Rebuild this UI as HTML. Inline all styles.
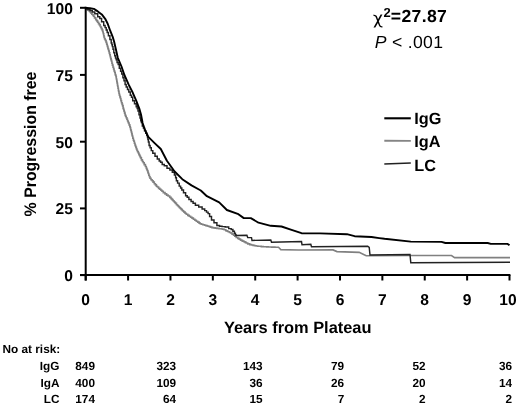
<!DOCTYPE html>
<html><head><meta charset="utf-8"><title>Progression free</title>
<style>
html,body{margin:0;padding:0;background:#fff;}
body{width:520px;height:405px;position:relative;overflow:hidden;font-family:"Liberation Sans",Arial,sans-serif;color:#000;font-weight:bold;text-rendering:geometricPrecision;}
svg{position:absolute;left:0;top:0;}
div{position:absolute;white-space:nowrap;line-height:1;}
.xl{top:292.6px;width:40px;text-align:center;font-size:15.6px;}
.yl{left:22.9px;width:50px;text-align:right;font-size:15.6px;}
.t{font-size:11.8px;}
</style></head><body>
<svg width="520" height="405" viewBox="0 0 520 405" fill="none">
<path d="M86.0,8.0H86.6V9.1H87.3H87.7V9.9H88.2H88.7V10.8H89.2H89.7V11.7H90.1H90.7V13.0H91.3H91.8V14.2H92.3H92.7V15.0H93.1H93.5V16.3H94.0H94.5V17.9H95.1H95.7V19.6H96.3H96.7V20.9H97.2H97.6V22.2H98.1H98.5V23.6H98.9H99.4V24.9H99.8H100.2V26.5H100.7H100.9V27.4H101.1H101.4V28.6H101.8H102.1V29.9H102.4H102.6V31.2H102.9H103.0V32.5H103.2H103.3V33.7H103.4H103.7V35.8H103.9H104.1V37.3H104.3H104.5V38.8H104.8H105.1V39.8H105.3H105.6V40.7H105.8H106.1V42.4H106.5H106.7V44.3H107.0H107.2V45.6H107.4H107.5V46.6H107.6H107.9V48.4H108.2H108.3V49.4H108.4H108.7V51.0H108.9H109.2V52.9H109.4H109.7V54.8H109.9H110.2V56.5H110.4H110.5V57.6H110.7H110.8V58.9H111.0H111.2V60.1H111.3H111.5V61.3H111.6H111.9V63.2H112.1H112.4V65.1H112.6H113.0V67.3H113.3H113.6V69.0H113.8H114.1V71.0H114.4H114.7V72.5H114.9H115.2V74.6H115.6H115.7V75.5H115.8H116.0V76.7H116.1H116.3V78.8H116.5H116.6V79.8H116.7H116.8V81.1H116.9H117.0V82.4H117.1H117.2V83.4H117.3H117.5V85.2H117.7H117.7V86.2H117.8H118.0V88.3H118.2H118.4V90.2H118.5H118.6V91.4H118.8H119.0V93.5H119.2H119.4V95.3H119.7H119.9V96.9H120.2H120.4V98.5H120.6H120.9V100.6H121.3H121.5V102.7H121.8H122.1V104.4H122.3H122.6V105.9H122.8H123.1V108.1H123.4H123.5V109.3H123.7H123.9V110.6H124.1H124.2V111.5H124.3H124.6V113.1H124.8H125.1V115.0H125.4H125.6V116.2H125.9H126.2V117.7H126.5H126.9V119.3H127.2H127.5V120.7H127.8H128.0V121.7H128.1H128.4V123.0H128.7H129.1V124.9H129.5H129.8V126.6H130.1H130.3V127.8H130.4H130.6V129.5H130.8H130.9V130.4H131.1H131.3V132.0H131.5H131.7V133.6H131.9H132.1V135.2H132.3H132.4V136.3H132.5H132.8V138.3H133.1H133.4V140.3H133.7H133.9V141.3H134.0H134.4V143.2H134.7H135.0V145.0H135.3H135.5V146.2H135.7H135.9V147.4H136.1H136.4V149.0H136.7H137.0V150.5H137.3H137.6V151.8H138.0H138.3V153.0H138.5H138.9V154.4H139.2H139.4V155.4H139.7H140.0V156.6H140.3H140.6V157.9H140.9H141.4V159.9H141.9H142.4V161.5H142.9H143.3V162.7H143.6H144.2V164.6H144.8H145.4V166.5H145.9H146.3V168.4H146.7H146.9V169.6H147.1H147.4V170.8H147.6H147.9V172.4H148.1H148.3V173.5H148.5H148.8V175.2H149.1H149.4V176.7H149.7H150.0V178.2H150.4H151.0V179.8H151.7H152.1V180.8H152.5H153.1V182.1H153.6H154.3V183.8H155.0H155.4V184.9H155.8H156.4V186.2H156.9H157.4V187.0H157.8H158.6V188.4H159.3H159.8V189.2H160.3H160.9V190.3H161.5H162.0V191.2H162.4H163.3V192.6H164.1H165.0V193.9H165.8H166.6V195.1H167.5H168.1V196.0H168.8H169.7V197.4H170.5H171.0V198.6H171.6H172.0V199.6H172.5H173.0V200.8H173.5H174.0V201.8H174.5H174.8V202.5H175.1H175.5V203.4H175.9H176.5V204.8H177.2H177.6V205.8H178.1H178.6V206.8H179.1H179.5V207.7H180.0H180.4V208.5H180.8H181.2V209.4H181.7H182.2V210.5H182.8H183.2V211.3H183.6H184.0V212.1H184.4H185.1V213.3H185.7H186.3V214.2H187.0H187.8V215.4H188.6H189.2V216.2H189.8H190.6V217.3H191.4H192.0V218.1H192.6H193.4V219.2H194.2H194.9V220.2H195.6H196.3V221.2H197.0H197.7V222.1H198.4H199.1V223.1H199.8H200.2V223.7H200.7H201.4V224.2H202.0H202.9V224.8H203.9H204.6V225.2H205.3H205.9V225.6H206.5H207.1V226.0H207.7H208.2V226.3H208.8H209.3V226.6H209.7H210.5V227.1H211.2H211.9V227.6H212.7H213.5V227.9H214.3H215.2V228.1H216.1H217.0V228.4H218.0H219.0V228.7H219.9H220.5V228.8H221.0H221.6V229.0H222.1H222.9V229.2H223.6H224.2V229.7H224.9H225.8V230.7H226.7H227.2V231.2H227.7H228.2V231.7H228.7H229.5V232.5H230.3H230.8V233.0H231.2H232.1V234.2H232.9H233.6V235.3H234.2H234.8V236.1H235.3H236.2V237.5H237.0H237.8V238.4H238.5H239.1V239.1H239.7H240.5V240.1H241.4H241.8V240.6H242.3H242.7V241.1H243.2H243.9V241.8H244.5H245.1V242.4H245.7H246.2V243.0H246.7H247.7V243.9H248.6H249.7V244.6H250.7H251.5V245.0H252.4H253.1V245.4H253.8H254.6V245.8H255.4H256.2V246.0H257.0H257.8V246.2H258.7H259.5V246.3H260.3H261.3V246.6H262.3H263.3V246.8H264.3H264.9V246.8H265.6H266.7V246.9H267.8H268.3V247.0H268.8H269.9V247.0H270.9H271.6V247.1H272.3H273.2V247.1H274.1H274.9V247.2H275.6H276.7V247.3H277.8H278.2V247.3H278.5L280.8,249.6L298.5,250.0L333.0,249.9L337.0,251.6L359.2,252.4L366.2,255.8L411.5,255.5L451.5,255.5L454.6,257.6L510.0,257.6" stroke="#808080" stroke-width="1.6" stroke-linejoin="miter"/>
<path d="M86.0,8.0H87.5V9.4H88.9H90.0V10.5H91.2H92.3V11.9H93.4H94.8V13.8H96.2H97.7V16.7H99.2H99.8V18.4H100.4H101.6V21.8H102.8H103.7V25.5H104.6H105.1V27.6H105.7H106.2V30.0H106.7H107.2V32.4H107.7H108.4V35.8H109.1H109.9V39.5H110.7H111.2V43.0H111.7H111.9V44.8H112.2H112.4V46.6H112.6H113.0V49.3H113.4H113.8V52.7H114.3H114.7V55.8H115.2H115.5V58.1H115.8H116.2V59.7H116.5H117.1V62.6H117.8H118.2V64.6H118.6H119.3V68.3H120.1H120.6V71.2H121.2H121.7V73.9H122.2H122.9V77.8H123.5H124.0V80.8H124.5H125.1V84.4H125.7H126.2V87.0H126.8H127.5V89.5H128.1H128.8V92.0H129.4H130.3V95.3H131.1H131.5V97.3H132.0H132.7V100.7H133.5H134.5V103.7H135.5H136.2V106.7H136.9H137.2V108.6H137.6H138.0V111.0H138.4H139.0V114.8H139.5H140.0V118.0H140.4H140.7V120.7H141.1H141.4V122.5H141.6H142.3V126.1H143.0H143.4V128.1H143.9H144.5V130.7H145.1H145.7V133.3H146.3H146.8V135.4H147.3H147.5V137.5H147.7H147.9V139.5H148.2H148.4V141.9H148.7H149.1V145.5H149.6H150.1V147.7H150.6H151.3V150.6H151.9H152.8V153.3H153.8H155.0V156.3H156.3H157.3V158.9H158.4H159.2V160.9H160.0H160.6V162.3H161.1H162.2V164.5H163.3H164.3V165.8H165.3H167.0V168.2H168.7H169.9V170.0H171.0H172.3V172.2H173.6H174.4V174.9H175.1H175.6V177.7H176.0H176.4V180.7H176.9H177.6V183.1H178.2H179.2V186.1H180.1H180.6V187.9H181.2H181.8V189.9H182.5H183.5V192.8H184.5H185.6V195.8H186.6H187.2V197.2H187.8H188.9V199.5H190.0H191.1V201.5H192.2H193.1V203.2H193.9H195.4V205.2H196.8H198.7V206.9H200.5H202.1V208.9H203.7H204.7V210.6H205.6H206.5V212.1H207.4H208.1V213.6H208.8H209.6V216.4H210.5H211.5V219.9H212.6H214.0V222.8H215.4H216.9V225.5H218.4H219.5V226.3H220.6H222.0V226.6H223.3H225.2V227.0H227.1H228.7V228.6H230.3H231.2V229.5H232.1H232.9V231.2H233.8H234.4V233.2H234.9H235.4V234.8H235.9H236.0V235.4H236.2L246.9,235.3L247.7,237.6L251.5,237.6L252.0,240.4L270.8,240.1L271.5,242.2L301.5,241.6L302.0,244.7L310.8,244.2L311.5,246.8L367.7,246.2L369.2,247.3L370.0,255.0L410.0,254.5L410.8,262.7L510.0,262.2" stroke="#222" stroke-width="1.45" stroke-linejoin="miter"/>
<path d="M86.0,8.0 L90.0,8.3 L93.9,8.9 L97.8,11.4 L101.8,14.4 L105.2,18.8 L107.7,23.7 L110.2,30.7 L112.6,36.6 L114.1,41.5 L117.8,57.8 L121.5,66.5 L124.4,75.0 L128.8,84.9 L132.8,92.8 L136.2,100.7 L139.3,108.6 L141.0,114.5 L142.6,123.0 L145.0,130.0 L148.3,136.9 L154.6,143.1 L160.8,149.0 L166.9,160.8 L174.6,171.5 L182.3,179.2 L191.5,185.4 L200.8,190.5 L206.9,196.2 L219.2,202.3 L226.9,210.0 L237.7,213.8 L243.8,218.1 L250.8,218.1 L258.5,222.7 L270.8,225.8 L281.5,226.5 L290.8,229.6 L301.5,233.2 L320.0,233.4 L346.9,234.2 L354.6,236.2 L371.5,237.0 L379.2,238.1 L384.6,238.8 L410.8,241.6 L441.5,241.9 L445.4,243.0 L487.7,243.0 L490.8,243.9 L507.7,243.9 L509.5,245.3" stroke="#000" stroke-width="1.9" stroke-linejoin="round"/>
<g stroke="#000" stroke-width="2">
<line x1="85.7" y1="6.8" x2="85.7" y2="280.5"/>
<line x1="80" y1="275.1" x2="510.4" y2="275.1"/>
<line x1="85.70" y1="275" x2="85.70" y2="280.5"/><line x1="128.08" y1="275" x2="128.08" y2="280.5"/><line x1="170.46" y1="275" x2="170.46" y2="280.5"/><line x1="212.84" y1="275" x2="212.84" y2="280.5"/><line x1="255.22" y1="275" x2="255.22" y2="280.5"/><line x1="297.60" y1="275" x2="297.60" y2="280.5"/><line x1="339.98" y1="275" x2="339.98" y2="280.5"/><line x1="382.36" y1="275" x2="382.36" y2="280.5"/><line x1="424.74" y1="275" x2="424.74" y2="280.5"/><line x1="467.12" y1="275" x2="467.12" y2="280.5"/><line x1="509.50" y1="275" x2="509.50" y2="280.5"/>
<line x1="80" y1="7.8" x2="85.7" y2="7.8"/><line x1="80" y1="74.9" x2="85.7" y2="74.9"/><line x1="80" y1="141.7" x2="85.7" y2="141.7"/><line x1="80" y1="208.4" x2="85.7" y2="208.4"/><line x1="80" y1="275.1" x2="85.7" y2="275.1"/>
</g>
<line x1="384.3" y1="118.3" x2="410.8" y2="118.3" stroke="#000" stroke-width="2.1"/>
<line x1="384.3" y1="140.8" x2="410.8" y2="140.9" stroke="#858585" stroke-width="1.9"/>
<line x1="384.3" y1="164" x2="410.8" y2="163" stroke="#222" stroke-width="1.7"/>
</svg>
<div class="xl" style="left:65.7px">0</div><div class="xl" style="left:108.1px">1</div><div class="xl" style="left:150.5px">2</div><div class="xl" style="left:192.8px">3</div><div class="xl" style="left:235.2px">4</div><div class="xl" style="left:277.6px">5</div><div class="xl" style="left:320.0px">6</div><div class="xl" style="left:362.4px">7</div><div class="xl" style="left:404.7px">8</div><div class="xl" style="left:447.1px">9</div><div class="xl" style="left:487.9px">10</div>
<div class="yl" style="top:1.8px">100</div><div class="yl" style="top:68.9px">75</div><div class="yl" style="top:135.7px">50</div><div class="yl" style="top:202.4px">25</div><div class="yl" style="top:269.1px">0</div>
<div id="ylab" style="left:31.0px;top:144.0px;font-size:16.7px;transform:translate(-50%,-50%) rotate(-90deg) scaleX(0.952);">% Progression free</div>
<div id="xlab" style="left:297.7px;top:320.2px;font-size:16.4px;transform:translateX(-50%);">Years from Plateau</div>
<div id="chi1" style="left:373.0px;top:10.6px;font-size:17.2px;font-weight:normal;font-family:'DejaVu Sans','Liberation Sans',sans-serif;">χ</div>
<div id="chi2" style="left:383.4px;top:6.4px;font-size:13px;">2</div>
<div id="chi3" style="left:390.8px;top:8.3px;font-size:17.6px;letter-spacing:0.35px;">=27.87</div>
<div id="pval" style="left:374.8px;top:34.1px;font-size:17.6px;font-weight:normal;letter-spacing:0.3px;"><i>P</i> &lt; .001</div>
<div class="lg" style="left:414.2px;top:111.2px;font-size:16.3px;">IgG</div>
<div class="lg" style="left:414.2px;top:134.4px;font-size:16.3px;">IgA</div>
<div class="lg" style="left:414.2px;top:157.5px;font-size:16.3px;">LC</div>
<div class="t" style="left:2.5px;top:343.6px;">No at risk:</div>
<div class="t" style="top:360.7px;left:0;width:59.5px;text-align:right">IgG</div><div class="t" style="top:360.7px;left:45.0px;width:50px;text-align:right">849</div><div class="t" style="top:360.7px;left:126.2px;width:50px;text-align:right">323</div><div class="t" style="top:360.7px;left:212.7px;width:50px;text-align:right">143</div><div class="t" style="top:360.7px;left:294.2px;width:50px;text-align:right">79</div><div class="t" style="top:360.7px;left:375.5px;width:50px;text-align:right">52</div><div class="t" style="top:360.7px;left:462.0px;width:50px;text-align:right">36</div><div class="t" style="top:377.5px;left:0;width:59.5px;text-align:right">IgA</div><div class="t" style="top:377.5px;left:45.0px;width:50px;text-align:right">400</div><div class="t" style="top:377.5px;left:126.2px;width:50px;text-align:right">109</div><div class="t" style="top:377.5px;left:212.7px;width:50px;text-align:right">36</div><div class="t" style="top:377.5px;left:294.2px;width:50px;text-align:right">26</div><div class="t" style="top:377.5px;left:375.5px;width:50px;text-align:right">20</div><div class="t" style="top:377.5px;left:462.0px;width:50px;text-align:right">14</div><div class="t" style="top:394.2px;left:0;width:59.5px;text-align:right">LC</div><div class="t" style="top:394.2px;left:45.0px;width:50px;text-align:right">174</div><div class="t" style="top:394.2px;left:126.2px;width:50px;text-align:right">64</div><div class="t" style="top:394.2px;left:212.7px;width:50px;text-align:right">15</div><div class="t" style="top:394.2px;left:294.2px;width:50px;text-align:right">7</div><div class="t" style="top:394.2px;left:375.5px;width:50px;text-align:right">2</div><div class="t" style="top:394.2px;left:462.0px;width:50px;text-align:right">2</div>
</body></html>
